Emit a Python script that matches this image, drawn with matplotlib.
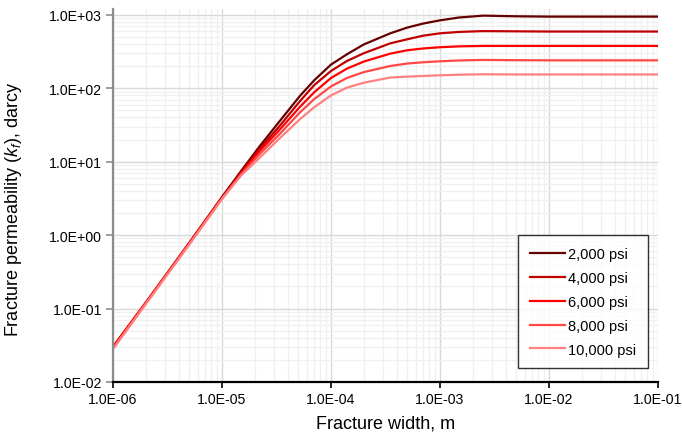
import matplotlib
matplotlib.use('Agg')
import matplotlib.pyplot as plt
from matplotlib.ticker import LogLocator, FuncFormatter, NullFormatter

plt.rcParams['font.family'] = ['Liberation Sans', 'DejaVu Sans']
plt.rcParams['mathtext.fontset'] = 'custom'
plt.rcParams['mathtext.it'] = 'Liberation Sans:italic'
plt.rcParams['mathtext.rm'] = 'Liberation Sans'

# fracture width, m
width = [1e-6, 2e-6, 5e-6, 1e-5, 1.5e-5, 2.2e-5, 3.4e-5, 5.2e-5, 7e-5, 1e-4,
         1.4e-4, 2e-4, 3.5e-4, 5e-4, 7e-4, 1e-3, 1.5e-3, 2.5e-3, 5e-3, 1e-2,
         3e-2, 1e-1]

# fracture permeability, darcy
k_2000 = [0.030, 0.12, 0.78, 3.3, 7.5, 16, 36, 79, 128, 210,
          290, 395, 560, 670, 760, 841, 920, 975, 955, 945, 945, 945]
k_4000 = [0.030, 0.12, 0.78, 3.25, 7.2, 14.8, 31, 67, 110, 172,
          235, 300, 409, 464, 520, 560, 585, 600, 596, 592, 592, 592]
k_6000 = [0.030, 0.12, 0.77, 3.2, 7.0, 13.8, 27.5, 56, 88, 138,
          185, 231, 296, 329, 348, 362, 372, 377, 377, 377, 377, 377]
k_8000 = [0.029, 0.118, 0.76, 3.15, 6.7, 12.6, 24, 47, 71, 106,
          138, 166, 201, 217, 226, 233, 239, 243, 241, 240, 240, 240]
k_10000 = [0.028, 0.115, 0.74, 3.1, 6.5, 11.2, 21, 38, 55, 80,
           102, 119, 140, 144, 147, 150, 153, 155, 154, 154, 154, 154]

labels = ['2,000 psi', '4,000 psi', '6,000 psi', '8,000 psi', '10,000 psi']
series = [k_2000, k_4000, k_6000, k_8000, k_10000]
colors = ['#650000', '#c00000', '#ff0000', '#ff4747', '#ff8080']

fig = plt.figure(figsize=(6.82, 4.39), dpi=100)
ax = fig.add_axes([0.1657, 0.1276, 0.7991, 0.849])

for k, lab, c in zip(series, labels, colors):
    ax.plot(width, k, color=c, lw=1.6, label=lab, solid_joinstyle='round')

ax.set_xscale('log')
ax.set_yscale('log')
ax.set_xlim(1e-6, 1e-1)
ax.set_ylim(1e-2, 1.19e3)

fmt = FuncFormatter(lambda v, p: '%.1E' % v)
ax.xaxis.set_major_locator(LogLocator(base=10, numticks=20))
ax.yaxis.set_major_locator(LogLocator(base=10, numticks=20))
ax.xaxis.set_minor_locator(LogLocator(base=10, subs=range(2, 10), numticks=20))
ax.yaxis.set_minor_locator(LogLocator(base=10, subs=range(2, 10), numticks=20))
ax.xaxis.set_major_formatter(fmt)
ax.yaxis.set_major_formatter(fmt)
ax.xaxis.set_minor_formatter(NullFormatter())
ax.yaxis.set_minor_formatter(NullFormatter())

ax.grid(True, which='major', color='#d9d9d9', lw=1.0)
ax.grid(True, which='minor', color='#f0f0f0', lw=1.0)
ax.set_axisbelow(True)

for s in ['top', 'right']:
    ax.spines[s].set_visible(False)
ax.spines['bottom'].set_color('black')
ax.spines['bottom'].set_linewidth(1.6)
ax.spines['left'].set_color('#8c8c8c')
ax.spines['left'].set_linewidth(1.6)
ax.tick_params(axis='x', which='major', direction='out', length=4, width=1.2,
               color='black', labelsize=10.2, pad=3)
ax.tick_params(axis='y', which='major', direction='out', length=5, width=1.2,
               color='#8c8c8c', labelsize=10.2, pad=3)
ax.tick_params(which='minor', length=0)

ax.set_xlabel('Fracture width, m', fontsize=13, labelpad=6)
ax.set_ylabel(r'Fracture permeability ($k_f$), darcy', fontsize=13)
ax.yaxis.set_label_coords(-0.163, 0.465)

leg = ax.legend(loc='lower right', bbox_to_anchor=(0.982, 0.037), fontsize=10.5,
                frameon=True, fancybox=False, edgecolor='black',
                handlelength=2.4, handletextpad=0.25, labelspacing=0.68,
                borderpad=0.8, borderaxespad=0)
leg.get_frame().set_linewidth(1.0)

fig.savefig('out.png', dpi=100)
